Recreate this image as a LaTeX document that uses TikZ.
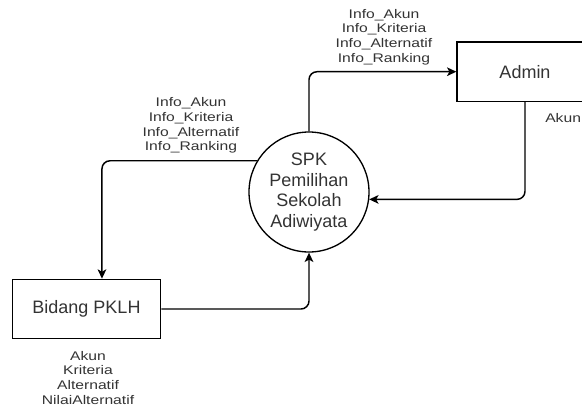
\documentclass[tikz,border=0pt]{standalone}
\usepackage{fontspec}
\setmainfont{Liberation Sans}
\newfontfamily\lblfont{Liberation Sans}[FakeStretch=1.25]
\usetikzlibrary{arrows.meta}

\begin{document}
\begin{tikzpicture}[x=0.75pt, y=-0.75pt,
    entity/.style={draw, line width=1pt, rectangle, inner sep=0pt, minimum height=44.5pt,
        text=black!80, font=\fontsize{13.5}{15.5}\selectfont},
    process/.style={draw, line width=1pt, circle, inner sep=0pt, minimum size=90pt, align=center,
        text=black!80, font=\fontsize{13.5}{15.5}\selectfont},
    flow/.style={draw, line width=1.1pt, rounded corners=6pt, -{Stealth[length=7pt, width=6.5pt, inset=1.8pt]}},
    flowlabel/.style={inner sep=0pt, align=center, text=black!80, font=\lblfont\fontsize{9.4}{11}\selectfont}]
    % picture size, the Admin box runs off the right edge
    \useasboundingbox (0,0) rectangle (582,408);
    \clip (0,0) rectangle (582,408);

    % process and external entities
    \node[process] (spk) at (309, 192) {SPK\\Pemilihan\\Sekolah\\Adiwiyata};
    \node[entity, minimum width=102pt] (admin) at (525, 71.7) {Admin};
    \node[entity, minimum width=111.4pt] (bidang) at (86.5, 309) {Bidang PKLH};

    % data flows
    \draw[flow] (spk.north) |- (admin.west);
    \draw[flow] (admin.south) |- (spk.-7);
    \draw[flow] (spk.149) -| ([xshift=11.6pt]bidang.north);
    \draw[flow] (bidang.east) -| (spk.south);

    % flow labels
    \node[flowlabel] (lbltop) at (384, 37) {Info\_Akun\\Info\_Kriteria\\Info\_Alternatif\\Info\_Ranking};
    \node[flowlabel] (lblleft) at (191, 125.7) {Info\_Akun\\Info\_Kriteria\\Info\_Alternatif\\Info\_Ranking};
    \node[flowlabel, anchor=west] (lblakun) at (545, 118) {Akun};
    \node[flowlabel] (lblbottom) at (88, 377.7) {Akun\\Kriteria\\Alternatif\\NilaiAlternatif};
\end{tikzpicture}
\end{document}
